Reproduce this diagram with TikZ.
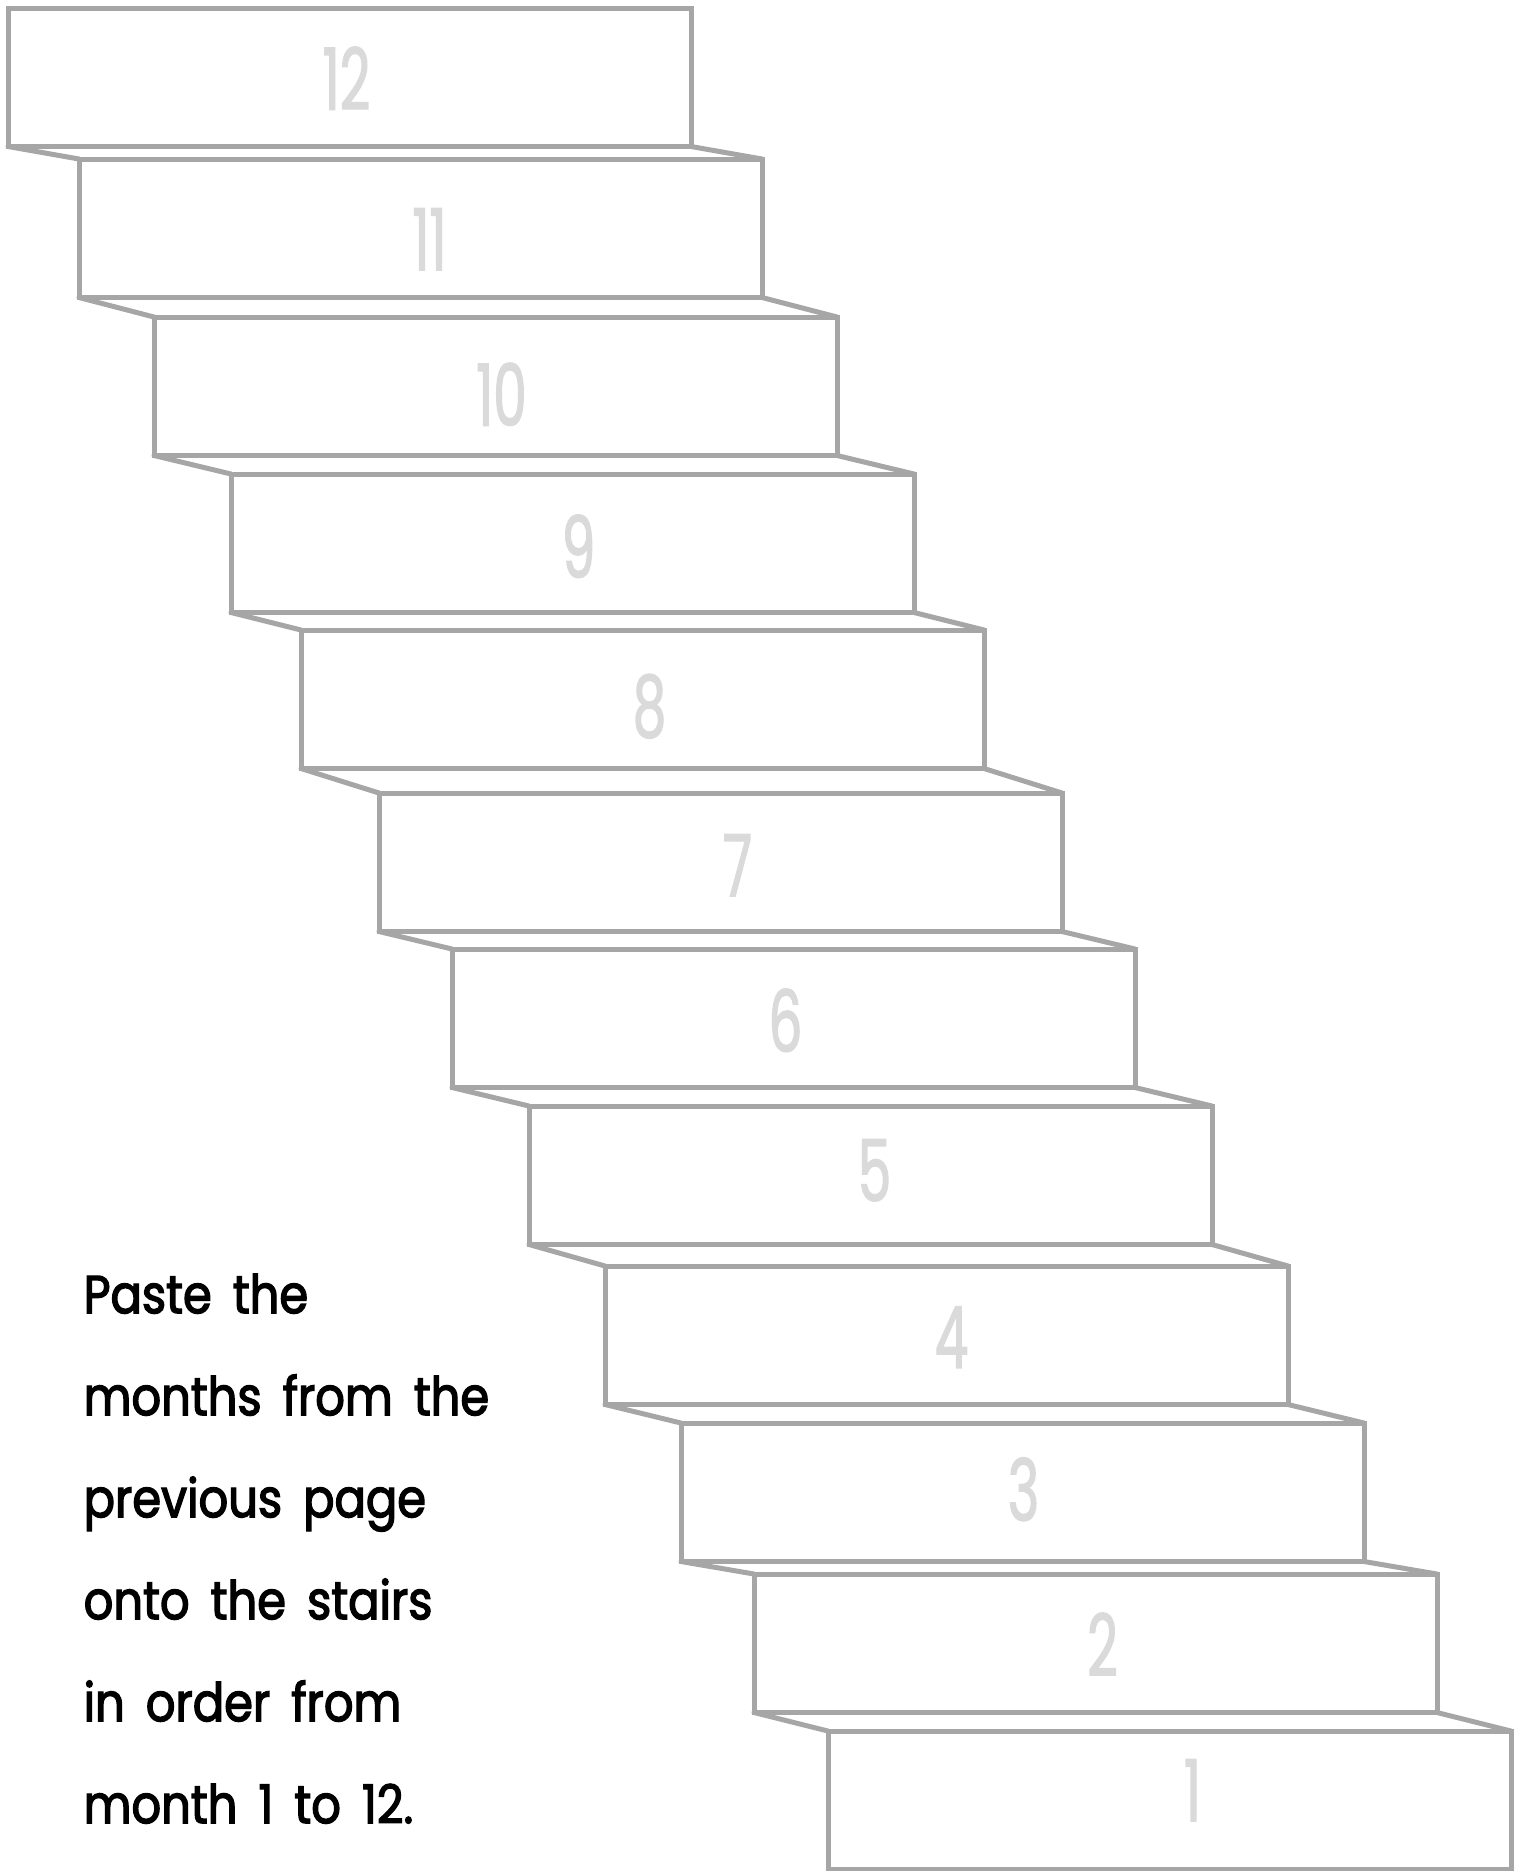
\documentclass[tikz,border=0pt]{standalone}
\usepackage{fontspec}
\setmainfont{Poppins}[FakeStretch=0.87, WordSpace=1.7, FakeBold=2.5]
\newfontfamily\monthfont{Poppins}[FakeStretch=0.62, FakeBold=1.5]
\usepackage{tikz}
\definecolor{stairgray}{HTML}{A6A6A6}
\definecolor{numgray}{HTML}{DADADA}
\tikzset{
  riser/.style={draw=stairgray, line width=1.5pt, inner sep=0pt, outer sep=0pt,
    minimum width=204.9pt, minimum height=41.55pt, anchor=north west},
  tread/.style={stairgray, line width=1.5pt, line cap=round},
  monthnum/.style={text=numgray, inner sep=0pt,
    font=\monthfont\fontsize{25.7}{26}\selectfont},
  note/.style={align=left, inner sep=0pt,
    font=\fontsize{16}{30.6}\selectfont}
}

\begin{document}
\begin{tikzpicture}[x=0.3pt, y=-0.3pt]
  \useasboundingbox (0,0) rectangle (1525,1871);
  % one riser per month, 12 at the top
  \foreach \n/\xl/\yt/\dx/\dy in {12/8/8/-3/1, 11/79/159/9/11, 10/154/317/6/8,
      9/231/474/6/3, 8/301/630/7/7, 7/379/793/17/3, 6/452/949/-8/2,
      5/529/1106/4/-5, 4/605/1266/5/2, 3/681/1423/1/-3, 2/754/1574/7/1,
      1/828/1731/23/-10} {
    \node[riser] (s\n) at (\xl,\yt) {};
    \node[monthnum] (m\n) at ([shift={(\dx,\dy)}]s\n.center) {\n};
  }
  % treads between risers
  \foreach \a [evaluate=\a as \b using int(\a-1)] in {12,...,2} {
    \draw[tread] (s\a.south west) -- (s\b.north west);
    \draw[tread] (s\a.south east) -- (s\b.north east);
  }
  \node[note, anchor=north west] (instr) at (83,1273) {Paste the\\
    months from the\\
    previous page\\
    onto the stairs\\
    in order from\\
    month 1 to 12.};
\end{tikzpicture}
\end{document}
